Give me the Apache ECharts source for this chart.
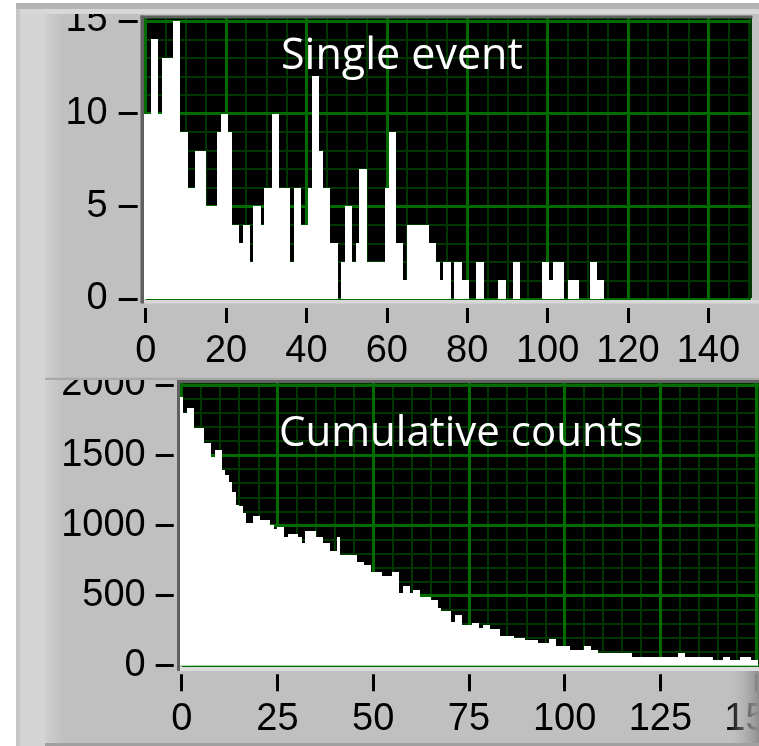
<!DOCTYPE html>
<html><head><meta charset="utf-8">
<script src="https://cdn.jsdelivr.net/npm/echarts@6/dist/echarts.min.js"></script>
<style>html,body{margin:0;padding:0;background:#c0c0c0;overflow:hidden}#c{width:759px;height:746px}</style>
</head><body><div id="c"></div>
<script>
// ---- data ----
const binWidth = 150 / 165; // histogram bin width (x units)
const singleCounts = [
  10,10,14,14,10,13,13,13,15,15,
  9,9,6,6,8,8,8,5,5,5,
  9,10,10,9,4,4,3,4,4,2,
  5,5,4,6,6,10,10,6,6,6,
  2,6,6,4,4,6,12,12,8,6,
  6,3,3,0,2,5,5,2,3,7,
  7,2,2,2,2,2,6,9,9,3,
  3,1,4,4,4,4,4,4,3,3,
  2,1,2,2,0,2,2,1,1,0,
  0,2,2,0,0,0,0,1,1,0,
  0,2,2,0,0,0,0,0,0,2,
  2,1,2,2,2,0,1,1,1,0,
  0,0,2,2,1,1,0,0,0,0,
  0,0,0,0,0,0,0,0,0,0,
  0,0,0,0,0,0,0,0,0,0,
  0,0,0,0,0,0,0,0,0,0,
  0,0,0,0,0,0
];
const cumulativeCounts = [
  1917,1800,1834,1834,1691,1691,1691,1589,1589,1489,
  1537,1537,1394,1359,1311,1240,1145,1140,1090,1019,
  1019,1066,1066,1038,1038,1038,1002,971,990,990,
  919,938,938,938,919,872,962,962,962,919,
  919,872,872,819,819,919,791,791,791,791,
  791,741,741,717,717,668,668,665,639,639,
  639,665,665,520,568,568,520,539,539,492,
  492,492,468,468,409,392,392,392,314,361,
  361,290,290,290,306,306,266,290,290,259,
  259,259,211,211,211,211,195,195,195,183,
  183,183,183,162,162,162,190,190,140,140,
  140,140,112,112,112,112,140,140,112,112,
  90,90,90,90,90,90,90,90,90,90,
  60,60,60,60,60,60,60,60,60,60,
  60,60,60,90,90,60,60,60,60,60,
  60,60,60,41,41,41,60,60,41,41,
  41,60,60,60,41,41
];
const singleXTicks = [0,20,40,60,80,100,120,140];
const singleYTicks = [0,5,10,15];
const cumXTicks = [0,25,50,75,100,125,150];
const cumYTicks = [0,500,1000,1500,2000];
const titles = ['Single event', 'Cumulative counts'];

// ---- styles ----
const MAJ = '#006c00', MIN = '#003600';
const tickFont = {fontFamily: "'Liberation Sans', Arial, sans-serif", fontSize: 38, color: '#000'};
const toPairs = arr => arr.map((v, i) => [i * binWidth, v]);

function minorAxis(grid, max, interval, pos, withBase) {
  return {type:'value', gridIndex:grid, position:pos, min:0, max:max, interval:interval, z:0,
    axisLine:{show:!!withBase, onZero:false, lineStyle:{color:'#fff', width:2}},
    axisTick:{show:false}, axisLabel:{show:false},
    splitLine:{show:true, lineStyle:{color:MIN, width:2}}};
}
function majorAxis(grid, max, ticks, pos, offset, tickLen, margin) {
  return {type:'value', gridIndex:grid, position:pos, min:0, max:max, interval:ticks[1]-ticks[0], offset:offset, z:1,
    axisLine:{show:false, onZero:false},
    axisTick:{show:true, length:tickLen, customValues:ticks, lineStyle:{color:'#000', width:3}},
    axisLabel:Object.assign({show:true, customValues:ticks, margin:margin, formatter: v => String(v), hideOverlap:false}, tickFont),
    splitLine:{show:true, lineStyle:{color:MAJ, width:3}}};
}
function histSeries(xi, yi, values) {
  return {type:'custom', xAxisIndex:xi, yAxisIndex:yi, data:toPairs(values), clip:false, z:2,
    encode:{x:0, y:1},
    renderItem:(params, api) => {
      const x = api.value(0), y = api.value(1);
      const p0 = api.coord([x - binWidth / 2, 0]);
      const p1 = api.coord([x + binWidth / 2, y]);
      const x0 = Math.round(p0[0]), x1 = Math.round(p1[0]);
      const yb = p0[1], yt = Math.round(p1[1]);
      if (yb - yt <= 0) return null;
      return {type:'rect', shape:{x:x0, y:yt, width:x1 - x0, height:yb - yt}, style:{fill:'#fff'}};
    }};
}

const chart = echarts.init(document.getElementById('c'), null, {renderer:'canvas'});
const rect = (x, y, w, h, fill, z) => ({type:'rect', z: z == null ? 50 : z, silent:true, shape:{x, y, width:w, height:h}, style:{fill}});
const grad = (c0, c1) => new echarts.graphic.LinearGradient(0, 0, 1, 0, [{offset:0, color:c0},{offset:1, color:c1}]);

chart.setOption({
  animation:false,
  backgroundColor:'#c0c0c0',
  grid:[
    {left:145.7, top:18, right:8, bottom:447, show:true, backgroundColor:'#000', borderWidth:0, containLabel:false, outerBoundsMode:'none'},
    {left:181.7, top:383, right:0, bottom:80.3, show:true, backgroundColor:'#000', borderWidth:0, containLabel:false, outerBoundsMode:'none'}
  ],
  xAxis:[
    minorAxis(0, 150.6, 5, 'bottom', true),
    majorAxis(0, 150.6, singleXTicks, 'bottom', 9, 15, 25),
    minorAxis(1, 150.77, 5, 'bottom', true),
    majorAxis(1, 150.77, cumXTicks, 'bottom', 8.5, 17, 26)
  ],
  yAxis:[
    minorAxis(0, 15.15, 1, 'left', false),
    majorAxis(0, 15.15, singleYTicks, 'left', 8, 19, 30),
    minorAxis(1, 2014.3, 100, 'left', false),
    majorAxis(1, 2014.3, cumYTicks, 'left', 8, 18, 28)
  ],
  series:[
    histSeries(0, 0, singleCounts),
    histSeries(2, 2, cumulativeCounts)
  ],
  graphic:[
    rect(0, 0, 16, 746, '#ffffff'),
    rect(16, 0, 4, 746, '#c6c6c6'),
    rect(20, 0, 25, 746, '#d4d4d4'),
    {type:'rect', z:50, silent:true, shape:{x:45, y:0, width:17, height:746}, style:{fill:grad('#d0d0d0','#c1c1c1')}},
    rect(16, 0, 743, 3, '#ffffff', 60),
    rect(16, 3, 743, 6, '#b4b4b4', 60),
    rect(20, 9, 739, 5, '#d8d8d8', 60),
    rect(140.5, 15.5, 612, 2.8, '#606060'),
    rect(140.5, 15.5, 3.5, 288, '#606060'),
    rect(144, 18, 1.7, 281, '#000000', 1),
    rect(144, 300, 615, 3.5, '#d8d8d8'),
    rect(62, 367, 697, 11, '#c0c0c0', 55),
    rect(45, 377.7, 714, 2.3, '#a8a8a8', 60),
    rect(177, 380, 582, 3, '#606060'),
    rect(177, 380, 3, 291, '#606060'),
    rect(180, 383, 1.7, 283, '#000000', 1),
    rect(180, 667, 579, 4, '#dcdcdc'),
    rect(45, 743, 714, 3, '#a0a0a0', 60),
    {type:'rect', z:55, silent:true, shape:{x:727, y:671, width:32, height:72}, style:{fill:grad('rgba(192,192,192,0)','#8e8e8e')}},
    {type:'text', z:70, left:281, top:35, style:{text:titles[0], fill:'#fff', font:"43px 'Open Sans', sans-serif"}},
    {type:'text', z:70, left:279, top:413, style:{text:titles[1], fill:'#fff', font:"42px 'Open Sans', sans-serif"}}
  ]
});
</script></body></html>
